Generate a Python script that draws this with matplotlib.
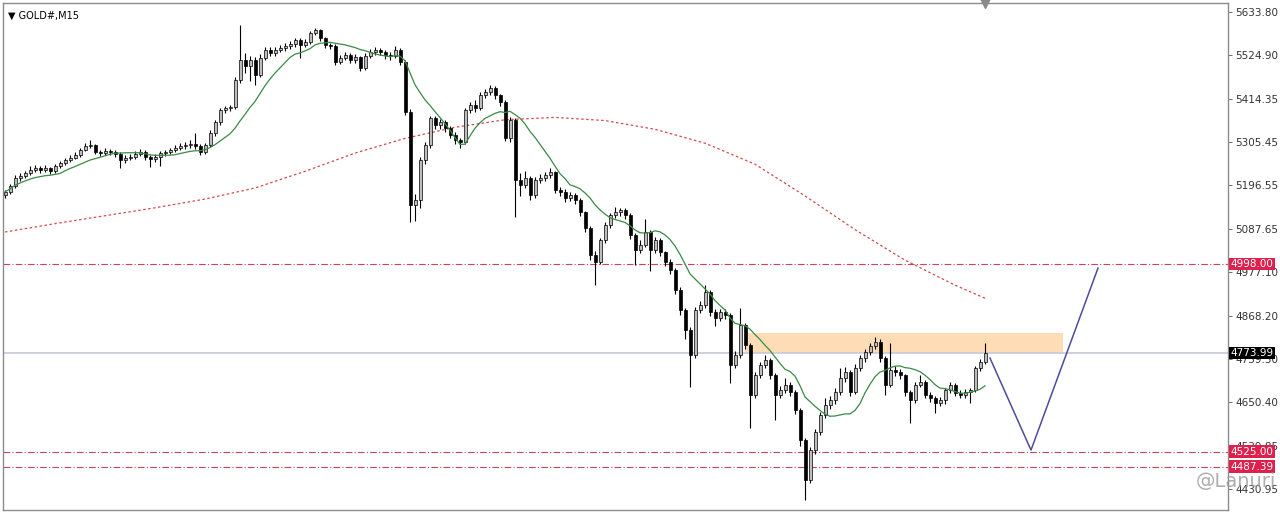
import matplotlib
matplotlib.use("Agg")
import matplotlib.pyplot as plt
import matplotlib.transforms as mtransforms
import pandas as pd

# velas M15 del oro (cierre, maximo, minimo); apertura = cierre anterior
primera_apertura = 5172
cierres = [5180, 5195, 5215, 5220, 5228, 5235, 5240, 5235, 5240, 5233,
           5245, 5253, 5260, 5266, 5273, 5286, 5296, 5298, 5281, 5278,
           5283, 5281, 5276, 5260, 5266, 5268, 5276, 5281, 5268, 5263,
           5268, 5278, 5281, 5286, 5291, 5296, 5298, 5301, 5296, 5281,
           5298, 5329, 5356, 5387, 5392, 5394, 5462, 5513, 5498, 5513,
           5475, 5518, 5538, 5530, 5538, 5543, 5548, 5553, 5563, 5551,
           5558, 5581, 5588, 5568, 5551, 5548, 5508, 5518, 5525, 5513,
           5520, 5493, 5523, 5533, 5538, 5533, 5525, 5523, 5538, 5508,
           5382, 5147, 5160, 5260, 5298, 5366, 5349, 5356, 5341, 5324,
           5311, 5306, 5387, 5399, 5392, 5424, 5432, 5442, 5424, 5407,
           5316, 5361, 5210, 5197, 5215, 5172, 5210, 5215, 5223, 5230,
           5185, 5180, 5165, 5172, 5160, 5129, 5089, 5021, 5003, 5059,
           5097, 5122, 5129, 5134, 5122, 5071, 5033, 5046, 5079, 5033,
           5059, 5028, 5003, 4983, 4933, 4882, 4832, 4769, 4882, 4895,
           4928, 4877, 4862, 4877, 4870, 4743, 4769, 4844, 4794, 4668,
           4718, 4743, 4756, 4718, 4668, 4680, 4693, 4675, 4630, 4554,
           4453, 4529, 4575, 4617, 4643, 4655, 4675, 4711, 4726, 4675,
           4736, 4761, 4776, 4791, 4801, 4761, 4693, 4731, 4726, 4718,
           4675, 4655, 4693, 4701, 4668, 4660, 4648, 4655, 4680, 4693,
           4673, 4668, 4675, 4680, 4736, 4751, 4774]
maximos = [5186, 5200, 5222, 5228, 5234, 5245, 5248, 5246, 5247, 5244,
           5250, 5259, 5266, 5272, 5280, 5292, 5304, 5311, 5302, 5287,
           5290, 5289, 5286, 5280, 5272, 5275, 5283, 5288, 5285, 5274,
           5276, 5284, 5287, 5292, 5298, 5303, 5305, 5310, 5329, 5300,
           5304, 5335, 5362, 5392, 5398, 5400, 5470, 5601, 5530, 5522,
           5520, 5528, 5545, 5546, 5545, 5550, 5555, 5560, 5568, 5568,
           5565, 5586, 5594, 5592, 5572, 5556, 5552, 5525, 5532, 5530,
           5528, 5524, 5530, 5540, 5545, 5544, 5538, 5532, 5548, 5542,
           5512, 5390, 5175, 5268, 5305, 5372, 5372, 5364, 5362, 5346,
           5330, 5316, 5392, 5408, 5412, 5432, 5440, 5450, 5446, 5428,
           5412, 5368, 5366, 5228, 5232, 5220, 5218, 5226, 5230, 5240,
           5234, 5192, 5188, 5180, 5178, 5165, 5133, 5095, 5030, 5065,
           5104, 5128, 5142, 5140, 5140, 5126, 5076, 5058, 5112, 5084,
           5066, 5064, 5032, 5010, 4988, 4940, 4888, 4840, 4890, 4905,
           4945, 4932, 4884, 4886, 4884, 4875, 4780, 4887, 4850, 4800,
           4726, 4750, 4770, 4762, 4724, 4690, 4711, 4700, 4680, 4636,
           4560, 4536, 4582, 4625, 4660, 4665, 4686, 4736, 4738, 4732,
           4745, 4768, 4785, 4800, 4814, 4808, 4766, 4799, 4740, 4734,
           4722, 4680, 4700, 4718, 4706, 4675, 4665, 4662, 4686, 4700,
           4698, 4680, 4682, 4686, 4742, 4758, 4799]
minimos = [5165, 5176, 5190, 5208, 5214, 5222, 5230, 5228, 5230, 5226,
           5228, 5240, 5248, 5255, 5262, 5268, 5282, 5290, 5275, 5271,
           5272, 5274, 5268, 5240, 5252, 5260, 5262, 5270, 5260, 5243,
           5255, 5246, 5270, 5275, 5280, 5285, 5288, 5290, 5288, 5272,
           5276, 5294, 5322, 5350, 5380, 5385, 5390, 5455, 5480, 5460,
           5450, 5470, 5512, 5522, 5524, 5532, 5536, 5540, 5546, 5518,
           5545, 5552, 5575, 5560, 5544, 5540, 5500, 5502, 5512, 5506,
           5505, 5485, 5488, 5518, 5526, 5525, 5516, 5514, 5518, 5500,
           5375, 5104, 5107, 5140, 5250, 5290, 5340, 5340, 5332, 5316,
           5300, 5291, 5300, 5380, 5382, 5386, 5418, 5425, 5415, 5398,
           5308, 5305, 5117, 5170, 5190, 5160, 5165, 5202, 5208, 5215,
           5178, 5170, 5155, 5158, 5150, 5120, 5080, 5008, 4945, 4998,
           5052, 5090, 5115, 5120, 5112, 5062, 4996, 5025, 5040, 4980,
           5026, 5018, 4992, 4972, 4922, 4870, 4810, 4688, 4760, 4875,
           4888, 4868, 4842, 4855, 4860, 4698, 4735, 4762, 4785, 4585,
           4660, 4710, 4735, 4708, 4605, 4660, 4672, 4665, 4620, 4540,
           4403, 4445, 4520, 4568, 4610, 4632, 4645, 4668, 4700, 4665,
           4670, 4728, 4752, 4768, 4785, 4752, 4668, 4688, 4715, 4708,
           4665, 4597, 4648, 4688, 4660, 4650, 4623, 4640, 4645, 4672,
           4665, 4660, 4660, 4648, 4675, 4728, 4745]

media_lenta_idx = [0, 10, 20, 30, 40, 50, 60, 70, 80, 90, 100,
                   110, 120, 130, 140, 150, 160, 170, 180, 190, 196]
media_lenta = [5079, 5100, 5120, 5140, 5162, 5190, 5232, 5278, 5315, 5343, 5362,
               5368, 5360, 5338, 5303, 5250, 5170, 5085, 5008, 4945, 4912]

# niveles horizontales
niveles_rojos = [4998.00, 4525.00, 4487.39]
precio_actual = 4773.99
zona_inicio, zona_fin = 148, 211.6
zona_alta = 4824

# proyeccion dibujada a mano
proyeccion_idx = [197, 205.2, 218.6]
proyeccion_precio = [4761, 4529, 4988]

marcas_y = [5633.80, 5524.90, 5414.35, 5305.45, 5196.55, 5087.65,
            4977.10, 4868.20, 4759.30, 4650.40, 4539.85, 4430.95]

aperturas = [primera_apertura] + cierres[:-1]
idx = list(range(len(cierres)))
media_rapida = pd.Series(cierres).rolling(12, min_periods=1).mean()

fig = plt.figure(figsize=(12.8, 5.13), dpi=100)
ax = fig.add_axes([3 / 1280, 3 / 513, 1225 / 1280, 507 / 513])

ax.set_xlim(-0.4, 244.6)
ax.set_ylim(4377.9, 5656.5)

# zona naranja y lineas
ax.fill_between([zona_inicio, zona_fin], precio_actual, zona_alta,
                color='#fddcb6', lw=0, zorder=1)
ax.axhline(precio_actual, color='#c3cad8', lw=1.2, zorder=1)
for nivel in niveles_rojos:
    ax.axhline(nivel, color='#c8465a', lw=0.8, ls=(0, (6, 2, 1, 2)), zorder=1)

# velas
for i in idx:
    o, c, h, l = aperturas[i], cierres[i], maximos[i], minimos[i]
    ax.vlines(i, l, h, color='black', lw=0.8, zorder=3)
    alcista = c >= o
    ax.bar(i, abs(c - o) if c != o else 0.5, bottom=min(o, c), width=0.6,
           color='#bdbdbd' if alcista else 'black', edgecolor='black',
           lw=0.5, zorder=4)

ax.plot(idx, media_rapida, color='#3a8a45', lw=0.9, zorder=5)
ax.plot(media_lenta_idx, media_lenta, color='#d24a4a', lw=0.9,
        ls=(0, (2, 2)), zorder=2)
ax.plot(proyeccion_idx, proyeccion_precio, color='#4c4c9c', lw=1.1, zorder=5)

# eje de precios
ax.yaxis.tick_right()
ax.set_yticks(marcas_y)
ax.set_yticklabels([f"{v:.2f}" for v in marcas_y])
ax.tick_params(axis='y', length=3, width=0.6, color='#555555',
               labelsize=7.5, labelcolor='#333333', pad=2)
ax.set_xticks([])
for lado in ax.spines.values():
    lado.set_color('#8c8c8c')
    lado.set_linewidth(1.0)

trans = mtransforms.blended_transform_factory(ax.transAxes, ax.transData)
for nivel in niveles_rojos:
    ax.text(1.002, nivel, f"{nivel:.2f}", transform=trans, ha='left', va='center',
            fontsize=7.5, color='white', zorder=10,
            bbox=dict(boxstyle='square,pad=0.12', fc='#e0204c', ec='none'))
ax.text(1.002, precio_actual, f"{precio_actual:.2f}", transform=trans,
        ha='left', va='center', fontsize=7.5, color='white', zorder=10,
        bbox=dict(boxstyle='square,pad=0.12', fc='black', ec='none'))

ax.text(0.004, 0.985, "▼ GOLD#,M15", transform=ax.transAxes, ha='left',
        va='top', fontsize=7, color='black')
ax.plot([0.8015], [1.0], transform=ax.transAxes, marker='v', ms=7,
        color='#8a8a8a', clip_on=False)

fig.text(1236 / 1280, 1 - 482 / 513, "@Lanuri", ha='center', va='center',
         fontsize=14, color='#9a9a9a', alpha=0.8)

fig.savefig("out.png", dpi=100)
